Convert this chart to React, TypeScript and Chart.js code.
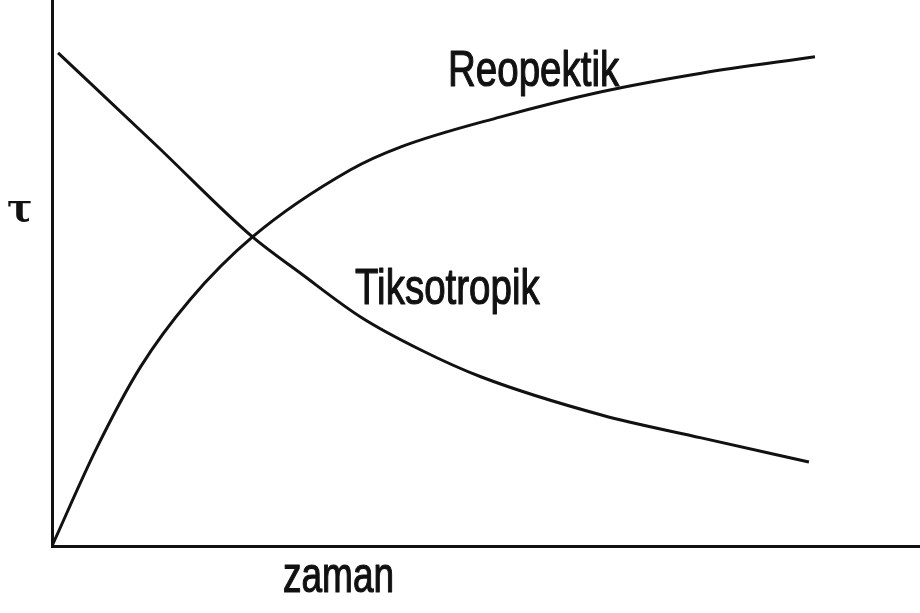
import React, { useEffect, useRef } from "react";
import { Chart, registerables } from "chart.js";

Chart.register(...registerables);

// Reopektik (rheopectic) curve: shear stress rises with time
const reopektikTime = [0, 5.2, 10.2, 15.9, 23.1, 34.4, 40.2, 51.7, 63.3, 74.8, 87.9];
const reopektikTau = [0, 18.1, 32.8, 45.1, 56.6, 68.9, 73.1, 78.6, 83.2, 86.6, 89.6];

// Tiksotropik (thixotropic) curve: shear stress falls with time
const tiksotropikTime = [0.7, 12.0, 23.1, 28.6, 35.6, 42.5, 49.4, 63.3, 74.8, 87.2];
const tiksotropikTau = [90.3, 73.4, 56.6, 50.0, 41.9, 35.9, 31.0, 24.0, 19.8, 15.4];

const seriesNames = ["Reopektik", "Tiksotropik"];
const xAxisLabel = "zaman";
const yAxisLabel = "τ";

const toPoints = (xs: number[], ys: number[]) => xs.map((x, i) => ({ x, y: ys[i] }));

// Draws the curve names and the axis symbols as text on the canvas
const labelPlugin = {
  id: "curveLabels",
  afterDraw(chart: any) {
    const { ctx } = chart;
    const put = (text: string, x: number, y: number, font: string, sx: number, weight: number) => {
      ctx.save();
      ctx.fillStyle = "#111";
      ctx.strokeStyle = "#111";
      ctx.lineWidth = weight;
      ctx.lineJoin = "round";
      ctx.font = font;
      ctx.textAlign = "left";
      ctx.textBaseline = "alphabetic";
      ctx.translate(x, y);
      ctx.scale(sx, 1);
      ctx.fillText(text, 0, 0);
      if (weight > 0) ctx.strokeText(text, 0, 0);
      ctx.restore();
    };
    const sans = "50px 'Liberation Sans', Arial, sans-serif";
    put(seriesNames[0], 448, 86, sans, 0.77, 1.2);
    put(seriesNames[1], 355, 304, sans, 0.77, 1.2);
    put(xAxisLabel, 283, 592, sans, 0.74, 1.2);
    put(yAxisLabel, 7, 221, "bold 40px 'DejaVu Serif', serif", 0.95, 0);
  },
};

export default function App() {
  const ref = useRef<HTMLCanvasElement | null>(null);

  useEffect(() => {
    if (!ref.current) return;
    const chart = new Chart(ref.current, {
      type: "line",
      data: {
        datasets: [
          {
            label: seriesNames[0],
            data: toPoints(reopektikTime, reopektikTau),
            borderColor: "#111",
            borderWidth: 3,
            pointRadius: 0,
            cubicInterpolationMode: "monotone",
            fill: false,
          },
          {
            label: seriesNames[1],
            data: toPoints(tiksotropikTime, tiksotropikTau),
            borderColor: "#111",
            borderWidth: 3,
            pointRadius: 0,
            cubicInterpolationMode: "monotone",
            fill: false,
          },
        ],
      },
      options: {
        responsive: false,
        animation: false,
        layout: { padding: { left: 52, right: 0, top: 0, bottom: 67 } },
        plugins: {
          legend: { display: false },
          tooltip: { enabled: false },
        },
        scales: {
          x: {
            type: "linear",
            min: 0,
            max: 100,
            ticks: { display: false },
            grid: { display: false, drawTicks: false },
            border: { display: true, color: "#111", width: 3 },
          },
          y: {
            type: "linear",
            min: 0,
            max: 100,
            ticks: { display: false },
            grid: { display: false, drawTicks: false },
            border: { display: true, color: "#111", width: 3 },
          },
        },
      },
      plugins: [labelPlugin],
    });
    return () => chart.destroy();
  }, []);

  return (
    <div style={{ position: "fixed", left: 0, top: 0, width: 920, height: 613, background: "#fff" }}>
      <canvas ref={ref} width={920} height={613} style={{ display: "block" }} />
    </div>
  );
}
